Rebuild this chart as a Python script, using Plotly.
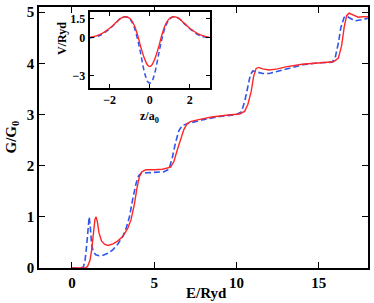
import plotly.graph_objects as go

# Main panel: conductance vs energy
E_red = [0, 0.5, 0.8, 0.95, 1.1, 1.2, 1.3, 1.4, 1.47, 1.55, 1.65, 1.8, 2.0, 2.2, 2.5, 2.8, 3.1, 3.4, 3.6, 3.8,
         3.95, 4.1, 4.25, 4.5, 5.0, 5.5, 6.0, 6.2, 6.4, 6.6, 6.8, 7.0, 7.2, 7.7, 8.5, 9.5, 10.2, 10.5, 10.7, 10.9,
         11.05, 11.2, 11.35, 11.6, 12.0, 12.5, 13.0, 14.0, 15.0, 15.9, 16.2, 16.4, 16.55, 16.7, 16.85, 17.1, 17.4, 17.7, 18]
G_red = [0, 0, 0.0, 0.03, 0.15, 0.35, 0.7, 0.95, 1.0, 0.9, 0.68, 0.53, 0.46, 0.44, 0.47, 0.53, 0.62, 0.78, 0.95, 1.25,
         1.55, 1.78, 1.88, 1.92, 1.92, 1.93, 1.97, 2.08, 2.3, 2.5, 2.7, 2.82, 2.86, 2.9, 2.95, 2.99, 3.01, 3.06, 3.2, 3.45,
         3.75, 3.9, 3.92, 3.89, 3.87, 3.89, 3.93, 3.98, 4.01, 4.03, 4.1, 4.35, 4.7, 4.93, 4.98, 4.94, 4.9, 4.91, 4.91]

E_blue = [0, 0.5, 0.7, 0.8, 0.9, 0.97, 1.05, 1.12, 1.2, 1.3, 1.45, 1.65, 1.9, 2.2, 2.5, 2.8, 3.1, 3.3, 3.5, 3.7,
          3.9, 4.05, 4.2, 4.6, 5.2, 5.6, 5.9, 6.1, 6.3, 6.5, 6.7, 7.0, 7.5, 8.0, 9.0, 10.0, 10.3, 10.5, 10.7, 10.85,
          11.0, 11.2, 11.6, 12.0, 12.5, 13.0, 14.0, 15.0, 15.8, 16.0, 16.2, 16.35, 16.55, 16.7, 16.9, 17.2, 17.6, 18]
G_blue = [0, 0, 0.02, 0.15, 0.45, 0.8, 1.0, 0.8, 0.45, 0.32, 0.26, 0.24, 0.25, 0.29, 0.36, 0.47, 0.62, 0.78, 1.0, 1.35,
          1.65, 1.8, 1.85, 1.86, 1.87, 1.88, 1.93, 2.15, 2.45, 2.68, 2.78, 2.82, 2.86, 2.9, 2.96, 3.0, 3.05, 3.25, 3.55, 3.78,
          3.85, 3.83, 3.8, 3.8, 3.84, 3.89, 3.97, 4.01, 4.02, 4.1, 4.4, 4.7, 4.9, 4.92, 4.88, 4.83, 4.85, 4.88]

# Inset: potential profile
z_in = [-3, -2.5, -2.0, -1.7, -1.45, -1.2, -1.0, -0.8, -0.6, -0.5, -0.4, -0.3, -0.2, -0.1, 0,
        0.1, 0.2, 0.3, 0.4, 0.5, 0.6, 0.8, 1.0, 1.2, 1.45, 1.7, 2.0, 2.5, 3]
V_red = [0.0, 0.22, 0.72, 1.15, 1.5, 1.62, 1.5, 1.05, 0.15, -0.45, -1.0, -1.5, -1.9, -2.2, -2.3,
         -2.2, -1.9, -1.5, -1.0, -0.45, 0.15, 1.05, 1.5, 1.62, 1.5, 1.15, 0.72, 0.22, 0.0]
V_blue = [-0.05, 0.15, 0.68, 1.12, 1.5, 1.62, 1.45, 0.9, -0.2, -0.9, -1.7, -2.5, -3.1, -3.5, -3.6,
          -3.5, -3.1, -2.5, -1.7, -0.9, -0.2, 0.9, 1.45, 1.62, 1.5, 1.12, 0.68, 0.15, -0.05]

main_xticks = [0, 5, 10, 15]
main_yticks = [0, 1, 2, 3, 4, 5]
inset_xticks = [-2, 0, 2]
inset_yticks = [-3, 0, 1.5]

RED = "#ff2626"
BLUE = "#2d55f0"
FONT = "Liberation Serif"

fig = go.Figure()
fig.add_trace(go.Scatter(x=E_blue, y=G_blue, mode="lines", line=dict(color=BLUE, width=1.6, dash="6px,3px"),
                         xaxis="x", yaxis="y", showlegend=False))
fig.add_trace(go.Scatter(x=E_red, y=G_red, mode="lines", line=dict(color=RED, width=1.4),
                         xaxis="x", yaxis="y", showlegend=False))
fig.add_trace(go.Scatter(x=z_in, y=V_blue, mode="lines", line=dict(color=BLUE, width=1.5, dash="5px,3px", shape="spline"),
                         xaxis="x2", yaxis="y2", showlegend=False))
fig.add_trace(go.Scatter(x=z_in, y=V_red, mode="lines", line=dict(color=RED, width=1.4, shape="spline"),
                         xaxis="x2", yaxis="y2", showlegend=False))

axis_common = dict(showgrid=False, zeroline=False, showline=True, linecolor="black", mirror="allticks",
                   ticks="inside", tickcolor="black")

fig.update_layout(
    width=374, height=303,
    margin=dict(l=39, r=4, t=6, b=35),
    paper_bgcolor="white", plot_bgcolor="white",
    xaxis=dict(domain=[0, 1], range=[-2, 18], tickvals=main_xticks, ticklen=6, linewidth=1.5,
               tickfont=dict(family=FONT, size=15, color="black", weight="bold"), **axis_common),
    yaxis=dict(domain=[0, 1], range=[0, 5.1], tickvals=main_yticks, ticklen=6, linewidth=1.5,
               tickfont=dict(family=FONT, size=15, color="black", weight="bold"), **axis_common),
    xaxis2=dict(domain=[0.154, 0.519], anchor="y2", range=[-3, 3], tickvals=inset_xticks, ticklen=4, linewidth=1.8,
                tickfont=dict(family=FONT, size=12, color="black", weight="bold"), **axis_common),
    yaxis2=dict(domain=[0.689, 0.981], anchor="x2", range=[-4, 2], tickvals=inset_yticks, ticklen=4, linewidth=1.8,
                tickfont=dict(family=FONT, size=12, color="black", weight="bold"), **axis_common),
    annotations=[
        dict(text="<b>E/Ryd</b>", xref="paper", yref="paper", x=0.51, y=-0.095, xanchor="center", yanchor="middle",
             showarrow=False, font=dict(family=FONT, size=15, color="black")),
        dict(text="<b>G/G<sub>0</sub></b>", xref="paper", yref="paper", x=-0.085, y=0.5, xanchor="center",
             yanchor="middle", textangle=-90, showarrow=False, font=dict(family=FONT, size=15, color="black")),
        dict(text="<b>z/a<sub>0</sub></b>", xref="paper", yref="paper", x=0.336, y=0.615, xanchor="center",
             yanchor="top", showarrow=False, font=dict(family=FONT, size=12, color="black")),
        dict(text="<b>V/Ryd</b>", xref="paper", yref="paper", x=0.072, y=0.88, xanchor="center",
             yanchor="middle", textangle=-90, showarrow=False, font=dict(family=FONT, size=12, color="black")),
    ],
)

fig.write_html("out.html", config={"displayModeBar": False},
               post_script="document.body.style.margin='0';document.body.style.overflow='hidden';")
